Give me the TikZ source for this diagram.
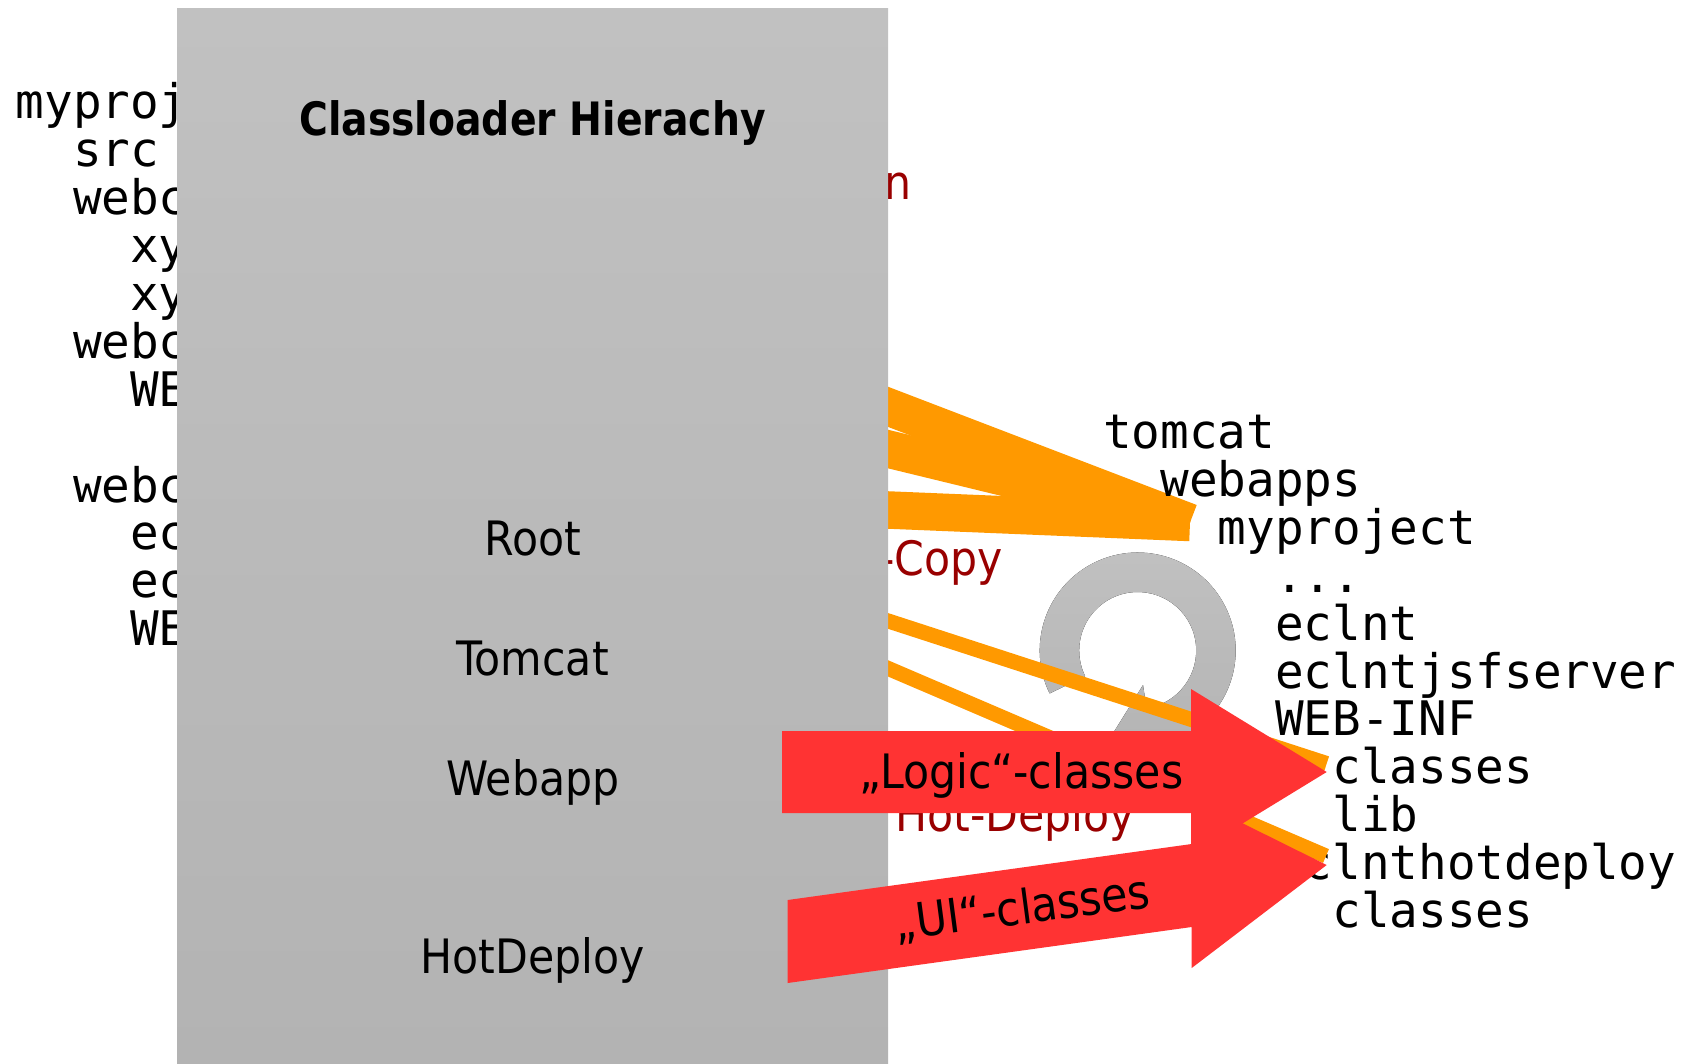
\documentclass[tikz,border=0pt]{standalone}
\usepackage{fontspec}
\setmonofont{DejaVu Sans Mono}
\newfontfamily\labelfont{DejaVu Sans Condensed}
\newfontfamily\titlefont{DejaVu Sans Condensed}[FakeStretch=0.95]

\definecolor{boxtop}{RGB}{193,193,193}
\definecolor{boxbot}{RGB}{179,179,179}
\definecolor{copyorange}{RGB}{255,153,0}
\definecolor{arrowred}{RGB}{255,51,51}
\definecolor{darkred}{RGB}{153,0,0}
\newcommand{\treedots}{...}

\tikzset{
  tree/.style={anchor=base west,inner sep=0pt,font=\ttfamily\fontsize{47.6}{47.6}\selectfont},
  lbl/.style={anchor=base,inner sep=0pt,font=\labelfont\fontsize{47.4}{47.4}\selectfont},
  redlbl/.style={lbl,text=darkred},
  band/.style={draw=copyorange,line width=37.5pt},
  strand/.style={draw=copyorange,line width=15pt},
  greyfill/.style={top color=boxtop,bottom color=boxbot,draw=none}
}

\begin{document}
\begin{tikzpicture}[x=1pt,y=-1pt]
\useasboundingbox (0,0) rectangle (1696,1064);

% source tree (mostly hidden by the box)
\foreach \i/\l/\t in {0/0/myproj,1/1/src,2/1/webc,3/2/xy,4/2/xy,5/1/webc,6/2/WE,8/1/webc,9/2/ec,10/2/ec,11/2/WE}
  \node[tree] (lt\i) at (15.5+57.3*\l,118.4+47.95*\i) {\t};

% red captions behind the box and the arrows
\node[redlbl,anchor=base west] (inst) at (884,200) {n};
\node[redlbl,anchor=base east] (copy) at (1003,575) {-Copy};
\node[redlbl,anchor=base west] (hotdep) at (895,831) {Hot-Deploy};

% reload circle
\coordinate (ring) at (1137.7,650.5);
\fill[greyfill,shift={(ring)}] (154:98) arc[start angle=154,end angle=441.3,radius=98]
  -- (441.3:121) -- (468:95) -- (441.3:35) -- (441.3:58.5)
  arc[start angle=441.3,end angle=154,radius=58.5] -- cycle;

% copy bands into tomcat/webapps/myproject
\coordinate (proj) at (1190,522.5);
\coordinate (from1) at (700,334.8);
\coordinate (from2) at (700,403.3);
\coordinate (from3) at (700,502.2);
\foreach \f in {from1,from2,from3} \draw[band] (\f) -- (proj);

% deployed tree
\foreach \i/\l/\t in {0/0/tomcat,1/1/webapps,2/2/myproject,3/3/\treedots,4/3/eclnt,5/3/eclntjsfserver,6/3/WEB-INF,7/4/classes,8/4/lib,9/3/eclnthotdeploy,10/4/classes}
  \node[tree] (rt\i) at (1103+57.3*\l,448.5+47.9*\i) {\t};

\coordinate (fromA) at (700,559.8);
\coordinate (fromB) at (700,587.8);
\coordinate (toA) at (1326.7,763.5);
\coordinate (toB) at (1326,856);
\draw[strand] (fromA) -- (toA);
\draw[strand] (fromB) -- (toB);

% classloader box
\fill[greyfill] (177,9) rectangle (888,1064);
\node[lbl,font=\titlefont\bfseries\fontsize{46}{46}\selectfont] (title) at (532.5,136) {Classloader Hierachy};
\node[lbl] (root) at (532.8,555) {Root};
\node[lbl] (tomcat) at (532.8,675) {Tomcat};
\node[lbl] (webapp) at (532.8,795) {Webapp};
\node[lbl] (hot) at (532.8,973.3) {HotDeploy};

% red arrows
\fill[arrowred] (782,731) -- (1191,731) -- (1191,689) -- (1326.7,772) -- (1191,855) -- (1191,813) -- (782,813) -- cycle;
\fill[arrowred] (787.7,900) -- (1191.7,844) -- (1191.7,798) -- (1326.7,865) -- (1191.7,968) -- (1191.7,927) -- (787.7,983) -- cycle;
\node[lbl] (logic) at (1021.5,788) {„Logic“-classes};
\node[lbl,rotate=7.5] (ui) at (1024,924) {„UI“-classes};
\end{tikzpicture}
\end{document}
